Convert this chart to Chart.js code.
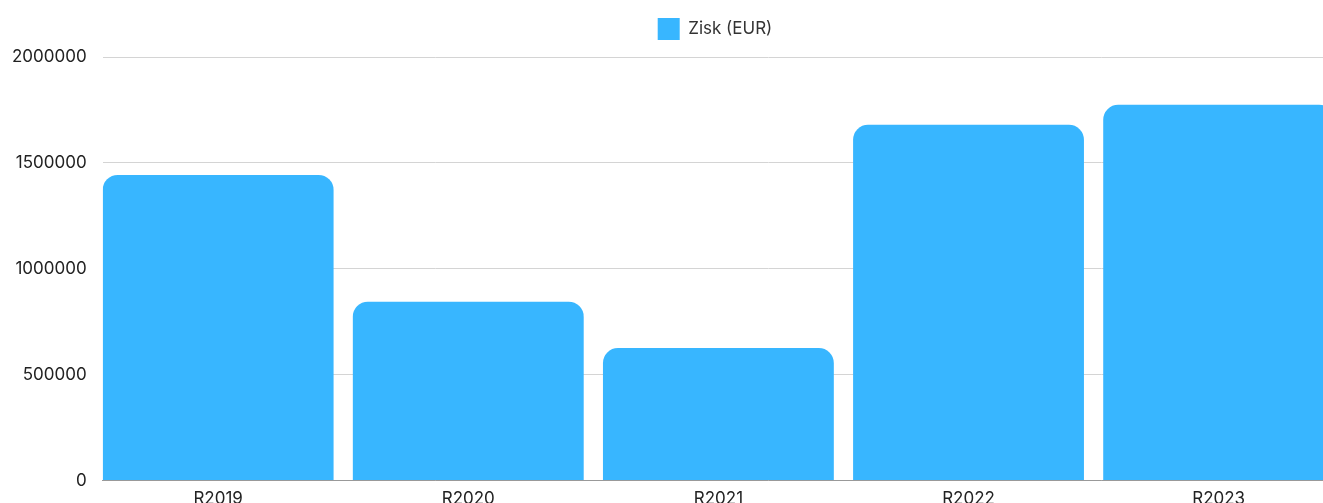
<!DOCTYPE html>
<html>
<head>
<meta charset="utf-8">
<script src="https://cdn.jsdelivr.net/npm/chart.js@4/dist/chart.umd.min.js"></script>
<style>
  body { margin: 0; overflow: hidden; background: #fff; }
  #wrap { width: 1444px; height: 509px; position: relative; }
</style>
</head>
<body>
<div id="wrap"><canvas id="profitChart"></canvas></div>
<script>
const categories = ['R2019', 'R2020', 'R2021', 'R2022', 'R2023'];
const profit = [1443000, 845000, 626000, 1680000, 1774000];
const yTicks = [0, 500000, 1000000, 1500000, 2000000];

Chart.defaults.font.family = 'Inter, sans-serif';
Chart.defaults.font.size = 17;
Chart.defaults.color = '#222';

// extra room under the legend
const legendGap = {
  id: 'legendGap',
  beforeInit(chart) {
    const fit = chart.legend.fit;
    chart.legend.fit = function () {
      fit.bind(chart.legend)();
      this.height += 7;
    };
  }
};

const ctx = document.getElementById('profitChart').getContext('2d');
const profitChart = new Chart(ctx, {
  type: 'bar',
  data: {
    datasets: [
      {
        label: 'Zisk (EUR)',
        data: profit.map((v, i) => ({ x: i, y: v })),
        backgroundColor: '#38b6ff',
        borderRadius: 15,
        borderSkipped: 'start',
        categoryPercentage: 1,
        barPercentage: 0.923
      }
    ]
  },
  options: {
    responsive: true,
    maintainAspectRatio: false,
    animation: false,
    layout: { padding: { left: -4, right: 10, top: 1 } },
    plugins: {
      legend: {
        labels: { boxWidth: 22, boxHeight: 22, padding: 17, color: '#333' }
      },
      tooltip: { enabled: false }
    },
    scales: {
      x: {
        type: 'linear',
        offset: false,
        min: -0.4615,
        max: 4.861,
        grid: { display: false },
        border: { color: '#999' },
        ticks: {
          stepSize: 1,
          includeBounds: false,
          padding: 0,
          maxRotation: 0,
          autoSkip: false,
          callback: (v) => categories[v] || ''
        }
      },
      y: {
        min: 0,
        max: 2000000,
        grid: { color: '#d4d4d4', drawTicks: false },
        border: { display: false },
        afterBuildTicks: (axis) => { axis.ticks = yTicks.map(v => ({ value: v })); },
        ticks: {
          padding: 16,
          callback: (v) => String(v)
        }
      }
    }
  },
  plugins: [legendGap]
});
</script>
</body>
</html>
